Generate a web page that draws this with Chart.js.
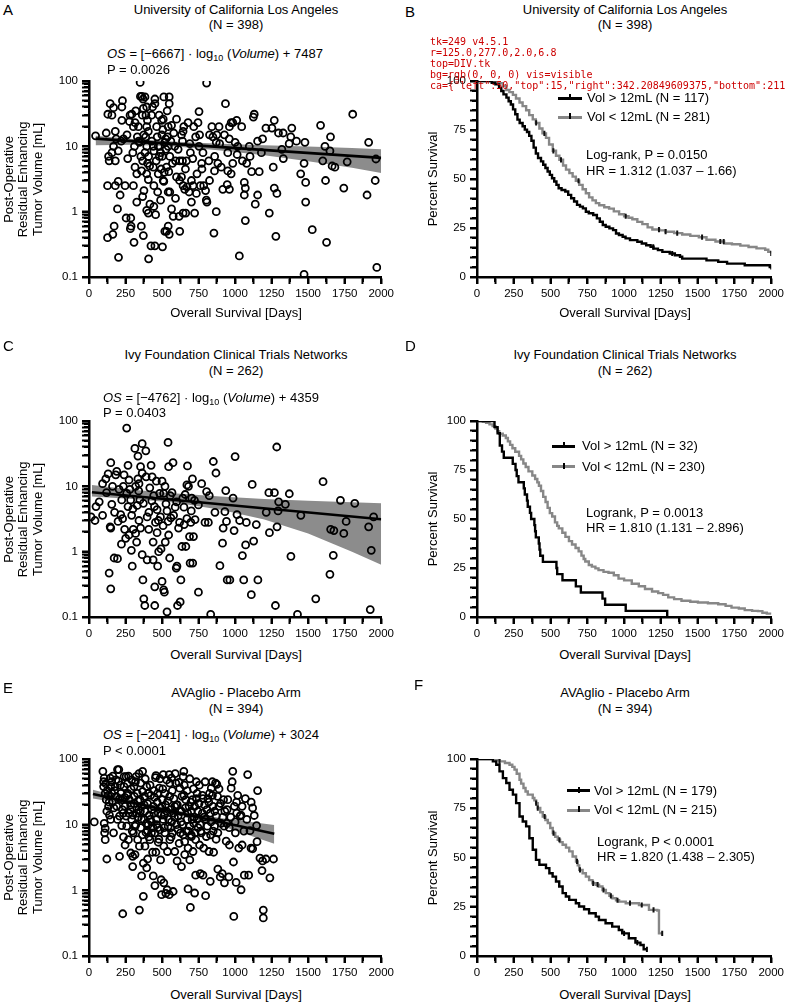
<!DOCTYPE html>
<html><head><meta charset="utf-8">
<script src="https://cdn.jsdelivr.net/npm/chart.js@4.4.1/dist/chart.umd.min.js"></script>
<style>
body{margin:0;background:#fff;}
#page{position:relative;width:787px;height:1003px;overflow:hidden;background:#fff;font-family:"Liberation Sans",Arial,Helvetica,sans-serif;color:#000;}
.t{position:absolute;font-size:13px;line-height:16px;white-space:nowrap;}
.t sub{font-size:9px;line-height:0;vertical-align:-3px;}
canvas{position:absolute;}
.lg{position:absolute;height:3px;}
.mk{position:absolute;width:2px;height:6px;background:#000;}
.tk{position:absolute;background:#000;z-index:5;}
#dbg{position:absolute;left:430px;top:36px;font:10px monospace;color:#c00;white-space:pre;z-index:9;}
</style>
</head><body><div id="page"></div>
<script>
// ---------- DATA ----------
const xTickValues = [0,125,250,375,500,625,750,875,1000,1125,1250,1375,1500,1625,1750,1875,2000];
const xTickLabels = [0,250,500,750,1000,1250,1500,1750,2000];
const logTickValues = [0.1,0.2,0.3,0.4,0.5,0.6,0.7,0.8,0.9,1,2,3,4,5,6,7,8,9,10,20,30,40,50,60,70,80,90,100];
const logTickLabels = [0.1,1,10,100];
const kmTickValues = [0,5,10,15,20,25,30,35,40,45,50,55,60,65,70,75,80,85,90,95,100];
const kmTickLabels = [0,25,50,75,100];

const uclaPoints = [
[45,14.5],[118,16],[129,31],[145,45],[134,7],[138,6],[127,2.5],[127,0.4],
[157,30],[168,39],[180,17],[186,13],[168,10],[157,8],[200,8.5],[180,6],[180,2.5],[200,2.9],[213,1.8],[195,1.1],[172,0.6],[163,0.45],[202,0.2],[229,50],[225,40],[225,25],[236,13],
[247,2.5],[254,0.8],[265,6.5],[281,30],[277,24],[286,0.8],[288,0.6],[283,0.55],[293,31],[304,2.5],[304,20],[315,23],[311,10],[315,4.8],[308,0.34],[327,1.4],[327,3.8],[331,14],[338,20],[345,11.5],[350,95],[352,58],[362,58],[370,53],[360,4.2],[367,6],[358,0.6],[367,1.7],[372,0.43],[376,2.1],
[383,57],[372,38],[395,40],[390,30],[395,20],[406,17],[388,14],[395,10],[383,8],[408,7],[401,5.5],[395,3.8],[406,3.1],[395,1.05],[406,0.95],[408,0.19],[424,0.3],[417,1.3],[428,30],[435,40],[451,45],[451,53],[440,10],[444,8.5],[440,4.8],[444,2.5],[444,1.2],[456,0.9],[451,0.3],[463,20],[467,14],[474,10],[481,7],[474,3.8],[490,1.5],[497,25],[499,15],[485,10],[503,0.29],[494,4.5],
[501,7],[508,26],[512,57],[519,11.5],[508,3],[512,2.9],[519,0.5],[531,0.5],[526,9],[531,4.8],[542,20],[537,14],[542,10],[549,57],[549,45],[553,7],[546,4.1],[542,2],[553,2],[542,0.6],[549,0.45],[565,21],[571,5.5],[565,1.1],[576,0.85],[587,10],[599,26],[592,6],[599,3.4],[592,1.6],[617,0.85],[621,0.5],[621,6],
[633,15],[644,17],[649,20],[640,6],[633,3.4],[644,2.5],[655,2.2],[644,0.95],[662,0.95],[667,6],[671,2.4],[678,23],[685,2],[694,8],[701,3],[701,1.4],[712,2.5],[723,0.95],[717,20],[735,1.9],[746,23],[753,34],[757,15],[753,10],[762,2.5],[739,3.8],
[771,5.5],[773,4.5],[785,2.5],[798,2.1],[803,1.5],[807,1.4],[805,93],[825,3],[841,20],[825,15],[848,14],[859,4.2],[855,0.47],[871,1],[871,11.5],[875,15],
[882,5.5],[894,11],[905,4.8],[927,15],[934,45],[916,2.2],[950,8],[950,4.2],[946,2.6],[961,20],[973,23],[984,23],[984,5.5],[973,3.8],[961,2.2],[1000,11.5],
[1011,25],[1018,10],[1014,7.5],[1045,20],[1029,0.21],[1063,2.8],[1070,2.3],[1063,1.8],[1070,0.73],[1079,5.5],[1097,10],[1102,7],[1113,4.1],[1125,28],[1131,31],[1138,1.3],
[1154,1.8],[1165,4.1],[1154,12],[1188,13],[1211,19],[1234,0.95],[1252,19],
[1268,25],[1261,4.8],[1268,2.3],[1279,0.42],[1286,1.9],[1297,16],[1320,9],[1329,16],[1370,11],[1381,14],[1388,19],
[1449,3.8],[1472,5.5],[1478,11.5],[1483,2.8],[1483,1.4],[1472,0.11],[1528,0.53],
[1585,21],[1615,10],[1619,3],[1626,0.34],[1653,14],[1649,8.5],[1664,5],[1683,4.8],[1744,2.3],[1767,5.8],[1805,31],[1903,1.8],[1914,11.5],[1959,3],[1964,6.4],[1970,0.14],
[220,12],[260,15],[300,8],[320,35],[340,12],[355,7],[365,30],[375,15],[400,25],[415,5],[430,12],[460,6],[470,2],[480,30],[490,8],[505,18],[515,4],[525,13],[535,35],[560,12],[580,16],[610,9],[620,3],[640,12],[660,4.5],[690,11],[710,6.5],[730,14],[780,8],[820,6],[860,7],[890,20],[960,13],[1050,6],[1180,8],[1330,6.5],[1420,12],[1600,6]
];
const uclaFit = [[45,13.1],[2000,6.65]];
const uclaBandHi = [[45,14.5],[300,13.0],[600,11.8],[900,11.0],[1200,10.4],[1500,9.9],[1800,9.4],[2000,9.0]];
const uclaBandLo = [[45,10.4],[300,10.6],[600,9.9],[900,8.6],[1200,7.3],[1500,5.9],[1800,4.7],[2000,3.9]];

const uclaHigh = [[0,100],[100,99.1],[125,98.3],[150,96.5],[165,94.9],[180,93.2],[200,91.5],[215,89.7],[230,88],[245,85.5],[260,83],[275,80.3],[290,78.6],[310,76.9],[325,75.2],[340,74],[355,72],[370,69.5],[385,66],[400,63],[415,60.7],[435,59],[450,57.3],[465,55.6],[480,53.8],[495,52.1],[510,50.4],[525,48.7],[540,47],[555,45.3],[575,44.4],[600,43.6],[620,41.9],[640,40.2],[660,38.5],[680,36.8],[700,35.9],[720,35],[740,33.3],[760,32.5],[790,31.6],[815,29.9],[835,28.2],[855,26.5],[875,25.6],[900,24.8],[925,23.9],[945,22.2],[965,21.4],[990,20.5],[1010,19.7],[1040,18.8],[1090,18],[1120,17.1],[1150,16.2],[1180,15.4],[1200,14.5],[1230,13.7],[1260,12.8],[1310,12],[1345,11.1],[1380,10.3],[1395,9.4],[1560,8.5],[1640,7.7],[1700,6.8],[1820,6],[1990,5.1],[2000,5.1]];
const uclaLow = [[0,100],[130,100],[150,98.9],[175,97.5],[199,95.4],[220,94.3],[244,92.9],[265,91.1],[289,89],[310,87.2],[334,85.1],[355,82.6],[379,80.4],[400,78.6],[424,75.8],[445,73.3],[469,71],[490,67.6],[515,64.4],[537,61.9],[560,59.8],[585,56.9],[605,54.8],[628,53],[650,51.2],[672,49.1],[695,47],[718,44.8],[740,42.7],[762,40.6],[785,39.1],[808,37.7],[831,36.6],[865,35.6],[898,34.9],[930,33.5],[966,32],[1000,31],[1030,30.2],[1056,29.5],[1090,28.1],[1124,27],[1160,25.3],[1192,24.2],[1240,23.8],[1282,23.1],[1340,22.4],[1395,21.7],[1450,21],[1508,20.3],[1560,19],[1621,18.1],[1680,17.1],[1733,16.7],[1790,16],[1846,15.3],[1900,14.6],[1959,13.9],[1980,12.9],[2000,12]];
const uclaHighCens = [[1198,15.4],[1327,12],[2000,5.1]];
const uclaLowCens = [[402,78.6],[458,73.3],[519,64.4],[571,59.8],[690,49.1],[1011,31],[1237,24.2],[1282,23.1],[1361,22.4],[1530,20.3],[1654,18.1],[1677,18.1],[2000,12]];

const ivyPoints = [
[14,3.4],[41,3.0],[48,4.9],[70,5.8],[93,3.6],[93,11],[115,13],[131,15.5],[149,23],[145,2.4],[149,2.3],[138,0.47],[149,0.27],[156,5.3],[161,10],[183,15],[190,17],[172,0.8],[195,0.78],[199,2.9],[206,9],[217,3.7],[222,1.3],[224,6.2],[235,10],[240,15],[244,2.2],[251,1.6],[258,78],[258,7.8],[267,21],[267,4.9],[274,1.8],[274,12.5],[285,6.2],[292,3.6],[296,0.6],[303,2.2],[290,1.05],[314,38],[319,1.9],[319,10],[326,1.4],[330,5.1],[335,29],[335,13],[342,11],[342,3.0],[348,6.2],[353,20],[353,2.3],[364,45],[364,16],[364,0.9],[369,0.37],[375,0.19],[382,0.15],[389,35],[391,14],[398,3.4],[398,0.75],[409,2.2],[416,9.5],[425,21],[432,14],[439,1.4],[439,0.75],[443,7.2],[448,4.9],[450,0.29],[450,0.15],[455,2.8],[461,12],[466,4.4],[466,1.95],[470,0.6],[477,1.0],[484,7.8],[489,3.4],[493,1.1],[500,12],[500,0.35],[507,2.5],[511,7.8],[511,0.26],[516,0.24],[522,1.4],[527,5.4],[534,0.12],[534,4.2],[541,47],[541,2.9],[545,20],[545,1.8],[552,0.8],[556,7.2],[568,8],[575,23],[579,3.6],[590,4.8],[597,0.56],[602,0.6],[606,0.15],[613,2.3],[620,2.8],[624,0.17],[629,0.37],[636,1.2],[642,6.6],[651,2.6],[658,7.5],[663,1.2],[670,3.2],[670,10.5],[674,20.5],[681,10],[688,1.7],[692,0.67],[697,2.8],[703,6.6],[708,13],[710,0.67],[715,1.7],[722,6.1],[726,3.1],[749,5.2],[749,0.24],[771,11],[794,2.8],[805,8.3],[817,2.8],[823,7.2],[833,0.11],[851,24],[862,4.0],[869,16],[896,0.61],[914,1.35],[918,2.3],[930,4.1],[936,8.6],[941,2.9],[946,0.37],[964,0.37],[986,6.6],[993,2.1],[1000,28.5],[1013,3.7],[1031,3.0],[1050,0.87],[1059,0.37],[1072,1.27],[1077,2.8],[1111,0.22],[1117,10.7],[1127,1.45],[1145,2.6],[1156,0.37],[1213,4.0],[1231,8],[1235,1.95],[1269,8],[1276,0.15],[1285,40],[1287,2.4],[1294,4.2],[1298,5.8],[1344,5.3],[1371,7.7],[1382,0.85],[1427,0.11],[1450,3.6],[1552,0.19],[1602,11.8],[1649,0.45],[1654,2.2],[1676,2.1],[1672,0.88],[1721,6.1],[1744,1.9],[1760,2.9],[1819,5.5],[1914,2.4],[1925,0.13],[1932,1.05],[1948,3.4],
[120,8],[175,4],[230,3.2],[280,9],[300,4.5],[340,8.5],[372,5.5],[410,4],[430,6],[475,3],[520,10],[560,3.3],[600,5.8],[650,4.8],[700,4.2]
];
const ivyFit = [[20,8.1],[2000,3.13]];
const ivyBandHi = [[20,10.5],[300,8.9],[600,7.8],[900,7.0],[1200,6.4],[1500,6.0],[1800,5.7],[2000,5.5]];
const ivyBandLo = [[20,7.0],[300,6.4],[600,5.6],[900,4.4],[1200,3.1],[1500,1.9],[1800,1.0],[2000,0.63]];

const ivyHigh = [[0,100],[119,96.9],[140,93.75],[155,87.5],[170,84.4],[182,81.25],[243,78.1],[262,75],[270,71.9],[282,68.75],[318,65.6],[325,62.5],[340,59.4],[345,56.25],[360,53.1],[368,50],[390,46.9],[395,43.75],[400,40.6],[420,37.5],[425,34.4],[430,31.25],[448,28.1],[540,25],[545,21.9],[581,18.75],[672,15.6],[706,12.5],[853,9.4],[871,6.25],[1011,3.1],[1293,0]];
const ivyLow = [[0,100],[40,99.6],[62,99.1],[85,98.3],[106,97.4],[125,96.1],[140,94.8],[151,93.5],[175,92.6],[196,91.3],[210,89.6],[225,87.8],[241,86.1],[260,84.3],[286,82.2],[300,80.4],[315,78.3],[331,76.5],[350,74.3],[376,72.2],[395,70.4],[410,68.7],[421,67],[435,64.3],[450,61.3],[466,58.7],[480,55.7],[495,53],[511,51.3],[530,48.3],[545,46.5],[556,45.2],[580,43],[601,40.9],[625,38.7],[646,37],[670,35.2],[691,33.5],[710,31.3],[725,29.6],[736,28.3],[760,26.5],[781,25.7],[805,24.8],[826,23.9],[860,23],[894,22.6],[930,21.3],[962,19.6],[1000,18.7],[1052,17],[1100,15.7],[1142,14.3],[1190,13],[1232,12.2],[1265,11.3],[1300,10],[1340,9.1],[1390,8.3],[1450,7.8],[1502,7.4],[1570,7],[1640,6.5],[1690,5.7],[1730,4.8],[1780,4.3],[1820,3.5],[1870,3.1],[1910,3],[1940,2.2],[1970,1.7],[2000,1.3]];

const avaPoints = [
[36,11],[95,65],[104,51],[100,38],[111,30],[118,24],[104,10.5],[111,8.8],[107,7.5],[111,5.9],[122,16],[122,3.0],[134,19],[140,14],[145,51],[150,38],[156,30],[163,55],[168,7.5],[179,38],[186,27],[190,19],[195,69],[204,69],[202,46],[209,13.5],[209,3.3],[218,30],[224,24],[224,9.7],[231,0.44],[236,6.5],[240,38],[240,54],[247,19],[247,4.9],[254,13.5],[254,54],[258,9.5],[265,30],[270,5.9],[270,55],[276,24],[281,17],[286,3.7],[292,12],[292,48],[299,3.3],[299,2.3],[304,7.5],[308,38],[308,21],[315,9.5],[315,3.5],[322,54],[327,15],[331,30],[333,5.9],[338,13],[345,0.5],[345,4.7],[349,24],[354,43],[354,9],[360,19],[360,1.66],[367,65],[367,32],[372,0.81],[372,2.6],[376,12],[383,16],[383,4.7],[390,7.6],[395,2.2],[395,38],[401,21],[401,3.0],[406,10],[413,14],[417,5.9],[422,28],[428,7.5],[428,11],[435,3.8],[440,1.66],[440,19],[444,15],[451,1.18],[451,7.5],[458,56],[458,3.8],[463,10],[467,22],[474,5.4],[474,15],[481,36],[485,8.3],[490,2.9],[494,1.45],[497,0.86],[499,19],[503,24],[508,58],[508,12],[512,1.3],[512,4.7],[519,7.5],[519,30],[526,0.9],[531,16],[535,1.02],[537,3.9],[542,9.5],[549,58],[549,0.86],[553,43],[553,5.9],[558,17],[565,11],[565,51],[571,7.5],[576,0.96],[581,25],[587,3.9],[587,19],[594,43],[599,10],[603,2.8],[610,13.5],[617,5.2],[621,36],[626,7.5],[633,2.3],[633,16],[640,10],[644,54],[649,65],[655,3.5],[655,5.5],[662,24],[667,7.9],[671,12],[678,1.05],[678,4.4],[685,19],[690,9.5],[690,2.9],[694,0.55],[701,16],[701,6.6],[708,24],[712,3.9],[717,10.5],[723,0.91],[723,19],[730,5.9],[730,1.7],[735,45],[739,12],[746,9],[753,21],[757,4.9],[762,1.8],[769,7.5],[776,15],[780,1.7],[785,4.4],[791,20],[798,0.83],[803,6.6],[807,17],[814,25],[821,3.9],[825,30],[830,1.37],[832,7],[837,36],[844,45],[848,19],[853,3.8],[859,9.5],[866,43],[871,13.5],[875,41],[882,2.1],[882,7.5],[889,19],[898,1.6],[905,10.5],[912,1.8],[916,13],[921,24],[927,1.3],[939,5.6],[943,10.5],[950,24],[957,1.6],[961,4.9],[973,36],[980,45],[984,65],[989,2.7],[991,0.4],[995,19],[1002,7.5],[1007,1.32],[1011,15],[1018,28],[1025,4.4],[1034,13.5],[1041,1.02],[1048,4.9],[1048,19],[1063,1.7],[1070,25],[1086,58],[1093,1.7],[1102,8.1],[1109,4.4],[1120,4.3],[1131,13.8],[1147,9.7],[1154,33],[1170,3.1],[1188,2.8],[1184,2.0],[1193,0.5],[1193,0.38],[1211,3.0],[1238,1.55],[1263,3.0],
[100,45],[130,28],[160,22],[175,33],[210,25],[235,15],[260,28],[285,20],[300,14],[320,10],[340,17],[360,12],[380,27],[400,8],[420,12],[445,33],[470,9],[490,18],[515,14],[540,23],[560,9],[585,13],[605,20],[630,11],[650,28],[675,15],[700,7],[720,13],[740,30],[760,10],[780,25],[800,12],[830,15],[850,8],[880,27],[930,16],[960,9],[1000,11],[1060,8],[1120,18],
[115,42],[125,33],[138,22],[148,12],[155,45],[170,18],[185,48],[195,12],[215,40],[228,17],[245,26],[262,42],[272,15],[288,35],[296,8],[310,27],[318,45],[335,23],[342,60],[352,16],[365,7],[378,20],[385,50],[392,10.5],[405,30],[410,6.5],[418,40],[430,17],[438,9],[448,26],[455,52],[462,12],[470,30],[478,6],[486,50],[495,14],[505,35],[515,9],[524,20],[532,48],[545,12],[552,27],[562,6.5],[570,33],[578,15],[590,60],[598,20],[608,8.5],[615,44],[624,16],[636,27],[645,7],[652,40],[660,18],[672,33],[680,8],[690,50],[698,22],[706,12],[715,35],[726,7.5],[735,25],[745,16],[755,40],[765,8],[776,28],[788,13],[795,45],[810,9.5],[820,22],[835,11],[845,28],[860,16],[870,6],[890,35],[900,21],[925,9.5],[945,17],[970,13],[1010,22],[1040,14],[1080,12],[1110,22],[1150,5.5]
];
const avaFit = [[27,29.4],[1268,7.25]];
const avaBandHi = [[27,34],[300,23.5],[600,16.5],[900,12.6],[1268,9.9]];
const avaBandLo = [[27,25],[300,19.8],[600,14.3],[900,9.7],[1268,5.1]];

const avaHigh = [[0,100],[90,100],[108,98.8],[131,97.1],[153,93.7],[176,90.3],[199,87.8],[221,84.4],[244,81.9],[266,77.6],[289,70.8],[311,68.3],[334,65.8],[356,59.8],[379,53.9],[401,48.8],[424,46.3],[469,44.6],[492,42],[514,40.3],[537,37.8],[559,35.3],[582,31.9],[604,30.2],[627,28.5],[672,26.8],[694,25.1],[728,23.7],[762,21.7],[807,20],[829,18.3],[874,16.6],[919,14.9],[964,13.2],[987,11.5],[1032,9],[1077,6.8],[1111,5.6],[1133,3.4],[1155,3.4]];
const avaLow = [[0,100],[110,100],[130,99.5],[153,98.8],[190,98],[221,97.1],[240,96],[255,94.6],[270,92.5],[289,89.5],[300,87.5],[316,85.3],[330,83.5],[345,81.9],[379,80.2],[390,79],[402,77.6],[413,75.1],[430,73],[447,70.8],[465,69],[481,67.5],[498,65],[515,62.4],[532,60.5],[549,59],[565,57.8],[582,56.5],[605,55],[627,53.1],[650,50.5],[673,48],[685,46],[695,43.7],[718,42],[740,40.3],[762,38.5],[785,36.9],[808,36.2],[830,35.3],[853,33.5],[876,31.9],[900,30.5],[921,29.3],[945,28.3],[966,27.6],[1011,26.8],[1101,25.9],[1158,25.9],[1169,23.4],[1226,23.1],[1237,11.5],[1259,11.5]];
const avaHighCens = [[1000,11.5],[1090,6.8],[1155,3.4]];
const avaLowCens = [[153,98.8],[402,77.6],[413,75.1],[460,70.8],[520,62.4],[560,59],[680,48],[700,43.7],[790,36.9],[820,36.2],[860,33.5],[910,30.5],[955,28.3],[1040,26.8],[1120,25.9],[1200,23.4],[1259,11.5]];

// ---------- RENDERING ----------
const FONT = '"Liberation Sans", Arial, Helvetica, sans-serif';
Chart.defaults.font.family = FONT;
Chart.defaults.color = '#000';
const page = document.getElementById('page');
const GRAY = '#878787';
const BAND = '#8c8c8c';
const dbg = [];

function txt(html, x, y, opt) {
  opt = opt || {};
  const d = document.createElement('div');
  d.className = 't';
  d.innerHTML = html;
  d.style.left = x + 'px';
  d.style.top = (y - 8) + 'px';
  if (opt.center) d.style.transform = 'translateX(-50%)';
  if (opt.size) d.style.fontSize = opt.size + 'px';
  page.appendChild(d);
}
function vtxt(lines, cx, cy, lh) {
  const d = document.createElement('div');
  d.className = 't';
  d.style.width = '200px';
  d.style.textAlign = 'center';
  d.style.lineHeight = lh + 'px';
  d.innerHTML = lines.join('<br>');
  const h = lh * lines.length;
  d.style.left = (cx - 100) + 'px';
  d.style.top = (cy - h / 2) + 'px';
  d.style.transform = 'rotate(-90deg)';
  page.appendChild(d);
}
function legendItem(x1, x2, y, color, label, tx) {
  const l = document.createElement('div');
  l.className = 'lg';
  l.style.left = x1 + 'px'; l.style.width = (x2 - x1) + 'px';
  l.style.top = (y - 1.5) + 'px'; l.style.background = color;
  page.appendChild(l);
  const m = document.createElement('div');
  m.className = 'mk';
  m.style.left = ((x1 + x2) / 2 - 1) + 'px';
  m.style.top = (y - 4) + 'px';
  page.appendChild(m);
  txt(label, tx, y);
}
function makeCanvas(a) {
  const c = document.createElement('canvas');
  c.width = a.r - a.l + 64;
  c.height = a.b - a.t + 45;
  c.style.left = (a.l - 50) + 'px';
  c.style.top = (a.t - 15) + 'px';
  page.appendChild(c);
  return c;
}
function pts(arr) { return arr.map(p => ({x: p[0], y: p[1]})); }
function isIn(list, v) { return list.some(q => Math.abs(q - v) < 1e-9); }

// tick marks at the library scale's tick positions, drawn on the chart canvas after everything else
function tickPlugin(majX, majY) {
  return {
    id: 'tickMarks',
    afterRender(chart) {
      const ctx = chart.ctx, ca = chart.chartArea;
      ctx.save();
      ctx.globalCompositeOperation = 'source-over';
      ctx.globalAlpha = 1;
      ctx.fillStyle = '#000';
      chart.scales.x.ticks.forEach(t => {
        const p = Math.round(chart.scales.x.getPixelForValue(t.value));
        const len = isIn(majX, t.value) ? 5.5 : 3.6;
        ctx.fillRect(p - 1, ca.bottom, 2, 1.25 + len);
      });
      chart.scales.y.ticks.forEach(t => {
        const p = Math.round(chart.scales.y.getPixelForValue(t.value));
        const len = isIn(majY, t.value) ? 5.5 : 3.6;
        ctx.fillRect(ca.left - 1.25 - len, p - 1, 1.25 + len, 2);
      });
      ctx.restore();
    }
  };
}
// the same marks as page elements, placed from the chart's own scales
function addTicks(chart, area, majX, majY) {
  const offX = area.l - 50, offY = area.t - 15;
  const ca = chart.chartArea;
  const sx = chart.scales.x, sy = chart.scales.y;
  sx.ticks.forEach(t => {
    const p = Math.round(sx.getPixelForValue(t.value));
    const len = isIn(majX, t.value) ? 5.5 : 3.6;
    const d = document.createElement('div');
    d.className = 'tk';
    d.style.left = (offX + p - 1) + 'px';
    d.style.top = (offY + ca.bottom) + 'px';
    d.style.width = '2px';
    d.style.height = (1.25 + len) + 'px';
    page.appendChild(d);
  });
  sy.ticks.forEach(t => {
    const p = Math.round(sy.getPixelForValue(t.value));
    const len = isIn(majY, t.value) ? 5.5 : 3.6;
    const d = document.createElement('div');
    d.className = 'tk';
    d.style.left = (offX + ca.left - 1.25 - len) + 'px';
    d.style.top = (offY + p - 1) + 'px';
    d.style.width = (1.25 + len) + 'px';
    d.style.height = '2px';
    page.appendChild(d);
  });
}
function gridOpts() {
  return {display: true, drawOnChartArea: false, drawTicks: true, tickLength: 7, tickWidth: 2, tickColor: '#000'};
}
function xScale() {
  return {
    type: 'linear', min: 0, max: 2000,
    afterBuildTicks: s => { s.ticks = xTickValues.map(v => ({value: v})); },
    afterFit: s => { s.height = 30; },
    ticks: {autoSkip: false, maxRotation: 0, padding: 3, font: {size: 11.5},
      callback: v => isIn(xTickLabels, v) ? String(v) : ''},
    grid: gridOpts(),
    border: {display: true, width: 2.5, color: '#000'}
  };
}
function logScale() {
  return {
    type: 'logarithmic', min: 0.1, max: 100,
    afterBuildTicks: s => { s.ticks = logTickValues.map(v => ({value: v})); },
    afterFit: s => { s.width = 50; },
    ticks: {autoSkip: false, padding: 4, font: {size: 11.5},
      callback: v => isIn(logTickLabels, v) ? String(v) : ''},
    grid: gridOpts(),
    border: {display: true, width: 2.5, color: '#000'}
  };
}
function kmScale() {
  return {
    type: 'linear', min: 0, max: 100,
    afterBuildTicks: s => { s.ticks = kmTickValues.map(v => ({value: v})); },
    afterFit: s => { s.width = 50; },
    ticks: {autoSkip: false, padding: 4, font: {size: 11.5},
      callback: v => isIn(kmTickLabels, v) ? String(v) : ''},
    grid: gridOpts(),
    border: {display: true, width: 2.5, color: '#000'}
  };
}
function baseOpts(scales) {
  return {
    responsive: false, animation: false, devicePixelRatio: 1, events: [],
    layout: {padding: {left: 0, top: 15, right: 14, bottom: 0}},
    plugins: {legend: {display: false}, tooltip: {enabled: false}},
    scales: scales
  };
}

function scatterChart(area, points, fit, hi, lo) {
  const ch = new Chart(makeCanvas(area), {
    type: 'line',
    data: {datasets: [
      {data: pts(fit), borderColor: '#000', borderWidth: 2.6, pointRadius: 0, fill: false, order: 0},
      {data: pts(points), showLine: false, pointRadius: 3.5, pointBorderWidth: 1.8,
       pointBorderColor: '#000', pointBackgroundColor: 'rgba(0,0,0,0)', order: 1},
      {data: pts(hi), borderColor: 'rgba(0,0,0,0)', borderWidth: 0, pointRadius: 0,
       fill: '+1', backgroundColor: BAND, order: 2},
      {data: pts(lo), borderColor: 'rgba(0,0,0,0)', borderWidth: 0, pointRadius: 0, fill: false, order: 3}
    ]},
    options: baseOpts({x: xScale(), y: logScale()}),
    plugins: [tickPlugin(xTickLabels, logTickLabels)]
  });
  addTicks(ch, area, xTickLabels, logTickLabels);
  return ch;
}
function kmChart(area, high, low, highCens, lowCens) {
  const ds = [
    {data: pts(high), stepped: true, borderColor: '#000', borderWidth: 2.4, pointRadius: 0, fill: false, order: 1},
    {data: pts(low), stepped: true, borderColor: GRAY, borderWidth: 2.4, pointRadius: 0, fill: false, order: 2}
  ];
  if (highCens) ds.push({data: pts(highCens), showLine: false, pointStyle: 'line', rotation: 90,
    pointRadius: 2.6, pointBorderWidth: 2, pointBorderColor: '#000', order: 0});
  if (lowCens) ds.push({data: pts(lowCens), showLine: false, pointStyle: 'line', rotation: 90,
    pointRadius: 2.6, pointBorderWidth: 2, pointBorderColor: '#111', order: 0});
  const ch = new Chart(makeCanvas(area), {
    type: 'line',
    data: {datasets: ds},
    options: baseOpts({x: xScale(), y: kmScale()}),
    plugins: [tickPlugin(xTickLabels, kmTickLabels)]
  });
  addTicks(ch, area, xTickLabels, kmTickLabels);
  return ch;
}

const areaA = {l: 89, r: 383, t: 81, b: 277};
const areaB = {l: 477, r: 773, t: 81, b: 277};
const areaC = {l: 89, r: 383, t: 421, b: 617};
const areaD = {l: 477, r: 773, t: 421, b: 617};
const areaE = {l: 89, r: 383, t: 759, b: 956};
const areaF = {l: 477, r: 773, t: 759, b: 956};

const chA = scatterChart(areaA, uclaPoints, uclaFit, uclaBandHi, uclaBandLo);
kmChart(areaB, uclaHigh, uclaLow, uclaHighCens, uclaLowCens);
scatterChart(areaC, ivyPoints, ivyFit, ivyBandHi, ivyBandLo);
kmChart(areaD, ivyHigh, ivyLow, null, null);
scatterChart(areaE, avaPoints, avaFit, avaBandHi, avaBandLo);
kmChart(areaF, avaHigh, avaLow, avaHighCens, avaLowCens);

// ---------- TEXT ----------
const yTitleScatter = ['Post-Operative', 'Residual Enhancing', 'Tumor Volume [mL]'];
const xTitle = 'Overall Survival [Days]';

txt('A', 3, 10, {size: 15});
txt('University of California Los Angeles', 236, 9.5, {center: true});
txt('(N = 398)', 236, 25, {center: true});
txt('<i>OS</i> = [&minus;6667] &middot; log<sub>10</sub> (<i>Volume</i>) + 7487', 107, 54);
txt('P = 0.0026', 107, 70);
vtxt(yTitleScatter, 23, 179, 14.3);
txt(xTitle, 236, 313, {center: true});

txt('B', 405, 12, {size: 15});
txt('University of California Los Angeles', 625, 9.5, {center: true});
txt('(N = 398)', 625, 25, {center: true});
vtxt(['Percent Survival'], 433, 179, 16);
txt(xTitle, 625, 313, {center: true});
legendItem(558, 582, 98, '#000', 'Vol &gt; 12mL (N = 117)', 587);
legendItem(558, 582, 117, GRAY, 'Vol &lt; 12mL (N = 281)', 587);
txt('Log-rank, P = 0.0150', 586, 155);
txt('HR = 1.312 (1.037 &ndash; 1.66)', 586, 171);

txt('C', 3, 346, {size: 15});
txt('Ivy Foundation Clinical Trials Networks', 236, 355, {center: true});
txt('(N = 262)', 236, 370.5, {center: true});
txt('<i>OS</i> = [&minus;4762] &middot; log<sub>10</sub> (<i>Volume</i>) + 4359', 103, 397.5);
txt('P = 0.0403', 103, 412.5);
vtxt(yTitleScatter, 23, 519, 14.3);
txt(xTitle, 236, 655, {center: true});

txt('D', 405, 346, {size: 15});
txt('Ivy Foundation Clinical Trials Networks', 625, 355, {center: true});
txt('(N = 262)', 625, 370.5, {center: true});
vtxt(['Percent Survival'], 433, 519, 16);
txt(xTitle, 625, 655, {center: true});
legendItem(552, 575, 446, '#000', 'Vol &gt; 12mL (N = 32)', 582);
legendItem(552, 575, 466.5, GRAY, 'Vol &lt; 12mL (N = 230)', 582);
txt('Logrank, P = 0.0013', 586, 512.5);
txt('HR = 1.810 (1.131 &ndash; 2.896)', 586, 527.5);

txt('E', 3, 688, {size: 15});
txt('AVAglio - Placebo Arm', 236, 693.3, {center: true});
txt('(N = 394)', 236, 709.3, {center: true});
txt('<i>OS</i> = [&minus;2041] &middot; log<sub>10</sub> (<i>Volume</i>) + 3024', 103, 735);
txt('P &lt; 0.0001', 103, 750.7);
vtxt(yTitleScatter, 23, 857.5, 14.3);
txt(xTitle, 236, 995, {center: true});

txt('F', 414, 685, {size: 15});
txt('AVAglio - Placebo Arm', 625, 693.3, {center: true});
txt('(N = 394)', 625, 709.3, {center: true});
vtxt(['Percent Survival'], 433, 857.5, 16);
txt(xTitle, 625, 995, {center: true});
legendItem(567, 590, 790.7, '#000', 'Vol &gt; 12mL (N = 179)', 594);
legendItem(567, 590, 810, GRAY, 'Vol &lt; 12mL (N = 215)', 594);
txt('Logrank, P &lt; 0.0001', 597, 841.7);
txt('HR = 1.820 (1.438 &ndash; 2.305)', 597, 856.7);

// ---------- diagnostics (temporary) ----------
(function(){
  const tks = document.querySelectorAll('.tk');
  const out = ['tk=' + tks.length + ' v' + Chart.version];
  if (tks.length) {
    const r = tks[2].getBoundingClientRect();
    out.push('r=' + [r.left, r.top, r.width, r.height].map(v => v.toFixed(1)).join(','));
    const el = document.elementFromPoint(r.left + 1, r.top + 3);
    out.push('top=' + (el ? el.tagName + '.' + el.className : 'none'));
    out.push('bg=' + getComputedStyle(tks[2]).backgroundColor + ' vis=' + getComputedStyle(tks[2]).visibility);
  }
  out.push('ca=' + JSON.stringify(chA.chartArea));
  const d = document.createElement('div'); d.id = 'dbg'; d.textContent = out.join('\n');
  page.appendChild(d);
})();
</script>
</body></html>
